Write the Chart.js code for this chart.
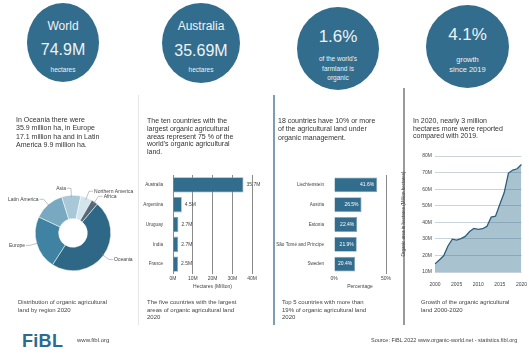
<!DOCTYPE html>
<html>
<head>
<meta charset="utf-8">
<script src="https://cdn.jsdelivr.net/npm/chart.js@4"></script>
<style>
  html, body { margin: 0; padding: 0; background: #fff; }
  body { width: 529px; height: 355px; position: relative; overflow: hidden;
         font-family: "Liberation Sans", Arial, sans-serif; color: #333; }
  .circle { position: absolute; border-radius: 50%; background: #326d8d; color: #eef3f6;
            text-align: center; }
  .circle .t { position: absolute; left: 0; right: 0; line-height: 1; }
  .txt { position: absolute; font-size: 7px; line-height: 8.4px; color: #333; white-space: nowrap;
         will-change: transform; }
  .cap { position: absolute; font-size: 6px; line-height: 7.5px; color: #444; white-space: nowrap;
         will-change: transform; }
  .div { position: absolute; }
  canvas { position: absolute; }
</style>
</head>
<body>

<!-- headline circles -->
<div class="circle" style="left:27px;top:3px;width:72px;height:79px;">
  <div class="t" style="top:17px;font-size:12px;">World</div>
  <div class="t" style="top:39px;font-size:16px;">74.9M</div>
  <div class="t" style="top:64px;font-size:6.5px;">hectares</div>
</div>
<div class="circle" style="left:162px;top:3px;width:78px;height:80px;">
  <div class="t" style="top:17px;font-size:12px;">Australia</div>
  <div class="t" style="top:40px;font-size:16px;">35.69M</div>
  <div class="t" style="top:64px;font-size:6.5px;">hectares</div>
</div>
<div class="circle" style="left:297px;top:7px;width:82px;height:83px;">
  <div class="t" style="top:21px;font-size:17px;">1.6%</div>
  <div class="t" style="top:47px;font-size:6.5px;line-height:9.5px;">of the world's<br>farmland is<br>organic</div>
</div>
<div class="circle" style="left:426px;top:5px;width:83px;height:83px;">
  <div class="t" style="top:21px;font-size:17px;">4.1%</div>
  <div class="t" style="top:50px;font-size:7.5px;line-height:10px;">growth<br>since 2019</div>
</div>

<!-- column dividers -->
<div class="div" style="left:138px;top:95px;width:1px;height:230px;background:#e6e6e6;"></div>
<div class="div" style="left:273px;top:95px;width:2px;height:230px;background:#7f9db0;"></div>
<div class="div" style="left:403px;top:88px;width:2px;height:237px;background:#9a9a9a;"></div>

<!-- column texts -->
<div class="txt" style="left:16px;top:116px;">In Oceania there were<br>35.9 million ha, in Europe<br>17.1 million ha and in Latin<br>America 9.9 million ha.</div>
<div class="txt" style="left:147px;top:117px;line-height:7.8px;">The ten countries with the<br>largest organic agricultural<br>areas represent 75 % of the<br>world's organic agricultural<br>land.</div>
<div class="txt" style="left:278px;top:117px;">18 countries have 10% or more<br>of the agricultural land under<br>organic management.</div>
<div class="txt" style="left:413px;top:117px;line-height:7.6px;">In 2020, nearly 3 million<br>hectares more were reported<br>compared with 2019.</div>

<canvas id="regionChart" width="146" height="116" style="left:0;top:175px;"></canvas>
<canvas id="countryChart" width="127" height="124" style="left:135px;top:168px;"></canvas>
<canvas id="shareChart" width="128" height="124" style="left:268px;top:168px;"></canvas>
<canvas id="growthChart" width="129" height="142" style="left:400px;top:150px;"></canvas>

<!-- captions -->
<div class="cap" style="left:18px;top:299px;">Distribution of organic agricultural<br>land by region 2020</div>
<div class="cap" style="left:147px;top:299px;">The five countries with the largest<br>areas of organic agricultural land<br>2020</div>
<div class="cap" style="left:282px;top:299px;">Top 5 countries with more than<br>19% of organic agricultural land<br>2020</div>
<div class="cap" style="left:421px;top:299px;">Growth of the organic agricultural<br>land 2000-2020</div>

<!-- footer -->
<div style="position:absolute;left:22px;top:331px;font-size:18px;font-weight:bold;color:#2c6a8f;letter-spacing:0.3px;">FiBL</div>
<div class="cap" style="left:77px;top:337px;">www.fibl.org</div>
<div class="cap" style="left:auto;right:12px;top:337px;font-size:5.5px;">Source: FiBL 2022 www.organic-world.net - statistics.fibl.org</div>

<script>
// Organic agricultural land by region 2020 (million ha)
const regions = ['Oceania', 'Europe', 'Latin America', 'Asia', 'Northern America', 'Africa'];
const regionArea = [35.9, 17.1, 9.9, 6.1, 3.7, 2.1];

// Five countries with the largest organic area (million ha)
const topCountries = ['Australia', 'Argentina', 'Uruguay', 'India', 'France'];
const topCountryArea = [35.69, 4.45, 2.74, 2.66, 2.55];
const areaTicks = ['0M', '10M', '20M', '30M', '40M'];

// Countries with the highest organic share of farmland (%)
const shareCountries = ['Liechtenstein', 'Austria', 'Estonia', 'São Tomé and Príncipe', 'Sweden'];
const shareValues = [41.6, 26.5, 22.4, 21.9, 20.4];

// World organic area 2000-2020 (million ha)
const years = ['2000', '2001', '2002', '2003', '2004', '2005', '2006', '2007', '2008', '2009', '2010',
  '2011', '2012', '2013', '2014', '2015', '2016', '2017', '2018', '2019', '2020'];
const worldArea = [14.9, 17.3, 19.8, 25.7, 29.8, 29.2, 30.1, 31.5, 34.4, 36.3, 35.7,
  36.1, 37.5, 43.1, 43.7, 50.9, 57.8, 69.7, 71.5, 72.3, 74.9];

const FONT = '"Liberation Sans", Arial, sans-serif';
Chart.defaults.font.family = FONT;
Chart.defaults.color = '#444';
Chart.defaults.animation = false;

const blue = '#326d8d';

// labels with short leader lines around the doughnut
const regionLabels = {
  id: 'regionLabels',
  afterDatasetsDraw(chart) {
    const ctx = chart.ctx;
    const meta = chart.getDatasetMeta(0);
    ctx.save();
    ctx.font = '5px ' + FONT;
    ctx.strokeStyle = '#999';
    ctx.fillStyle = '#444';
    ctx.lineWidth = 0.6;
    ctx.textBaseline = 'middle';
    meta.data.forEach((arc, i) => {
      const mid = (arc.startAngle + arc.endAngle) / 2;
      const r = arc.outerRadius;
      const x0 = arc.x + Math.cos(mid) * (r - 2), y0 = arc.y + Math.sin(mid) * (r - 2);
      const x1 = arc.x + Math.cos(mid) * (r + 7), y1 = arc.y + Math.sin(mid) * (r + 7);
      const right = Math.cos(mid) >= 0;
      const x2 = x1 + (right ? 4 : -4);
      ctx.beginPath();
      ctx.moveTo(x0, y0);
      ctx.lineTo(x1, y1);
      ctx.lineTo(x2, y1);
      ctx.stroke();
      ctx.textAlign = right ? 'left' : 'right';
      ctx.fillText(chart.data.labels[i], x2 + (right ? 1 : -1), y1);
    });
    ctx.restore();
  }
};

new Chart(document.getElementById('regionChart'), {
  type: 'doughnut',
  data: {
    labels: regions,
    datasets: [{
      data: regionArea,
      backgroundColor: ['#2f6887', '#3f82a1', '#78a9c0', '#a8c8d7', '#d2e4ec', '#56697a'],
      borderColor: '#fff',
      borderWidth: 0.5
    }]
  },
  options: {
    responsive: false,
    cutout: '38%',
    rotation: 40,
    layout: { padding: { top: 20, bottom: 20 } },
    plugins: { legend: { display: false }, tooltip: { enabled: false } }
  },
  plugins: [regionLabels]
});

// value labels next to / inside the bars
function barValues(inside, fmt) {
  return {
    id: 'barValues',
    afterDatasetsDraw(chart) {
      const ctx = chart.ctx;
      const meta = chart.getDatasetMeta(0);
      const vals = chart.data.datasets[0].data;
      ctx.save();
      ctx.font = '5px ' + FONT;
      ctx.textBaseline = 'middle';
      meta.data.forEach((bar, i) => {
        if (inside) {
          ctx.fillStyle = '#fff';
          ctx.textAlign = 'right';
          ctx.fillText(fmt(vals[i]), bar.x - 3, bar.y);
        } else {
          ctx.fillStyle = '#444';
          ctx.textAlign = 'left';
          ctx.fillText(fmt(vals[i]), bar.x + 3, bar.y);
        }
      });
      ctx.restore();
    }
  };
}

function hbarOptions(max, step, tickFmt, title, gridAll, labelWidth) {
  return {
    responsive: false,
    indexAxis: 'y',
    layout: { padding: { top: 7, right: 10, bottom: 2 } },
    plugins: { legend: { display: false }, tooltip: { enabled: false } },
    scales: {
      x: {
        min: 0, max: max,
        ticks: { stepSize: step, font: { size: 5 }, padding: 2, callback: tickFmt },
        grid: {
          color: (c) => (gridAll || c.tick.value === max) ? '#8a8a8a' : 'rgba(0,0,0,0)',
          lineWidth: 1, drawTicks: false
        },
        border: { display: false },
        title: { display: true, text: title, font: { size: 5 }, padding: 0 }
      },
      y: {
        afterFit: (axis) => { axis.width = labelWidth; },
        ticks: { font: { size: 4.6 }, padding: 2 },
        grid: { display: false },
        border: { display: false }
      }
    }
  };
}

new Chart(document.getElementById('countryChart'), {
  type: 'bar',
  data: {
    labels: topCountries,
    datasets: [{
      data: topCountryArea,
      backgroundColor: blue,
      borderColor: '#7fa7bd',
      borderWidth: 0.8,
      barPercentage: 0.78,
      categoryPercentage: 1
    }]
  },
  options: hbarOptions(40, 10, (v) => areaTicks[v / 10], 'Hectares (Million)', true, 38),
  plugins: [barValues(false, (v) => v.toFixed(1) + 'M')]
});

new Chart(document.getElementById('shareChart'), {
  type: 'bar',
  data: {
    labels: shareCountries,
    datasets: [{
      data: shareValues,
      backgroundColor: blue,
      borderColor: '#7fa7bd',
      borderWidth: 0.8,
      barPercentage: 0.75,
      categoryPercentage: 1
    }]
  },
  options: hbarOptions(50, 50, (v) => v + '%', 'Percentage', false, 66),
  plugins: [barValues(true, (v) => v.toFixed(1) + '%')]
});

new Chart(document.getElementById('growthChart'), {
  type: 'line',
  data: {
    labels: years,
    datasets: [{
      data: worldArea,
      borderColor: '#2c5f7c',
      borderWidth: 1.3,
      backgroundColor: 'rgba(50,109,141,0.42)',
      fill: 'start',
      pointRadius: 0,
      tension: 0
    }]
  },
  options: {
    responsive: false,
    layout: { padding: { top: 5, right: 3, bottom: 2 } },
    plugins: { legend: { display: false }, tooltip: { enabled: false } },
    scales: {
      x: {
        offset: false,
        grid: { display: false },
        border: { display: false },
        ticks: {
          autoSkip: false, maxRotation: 0, font: { size: 5 }, padding: 2,
          callback: (v, i) => (Number(years[i]) % 5 === 0 ? years[i] : '')
        }
      },
      y: {
        min: 10, max: 80,
        afterFit: (axis) => { axis.width = 35; },
        ticks: { stepSize: 10, font: { size: 5 }, padding: 3, callback: (v) => v + 'M' },
        grid: { color: '#c9d3d9', lineWidth: 1, drawTicks: false },
        border: { display: false },
        title: { display: true, text: 'Organic area in hectares (Million hectares)', font: { size: 4.5 }, padding: 1 }
      }
    }
  }
});
</script>
</body>
</html>
